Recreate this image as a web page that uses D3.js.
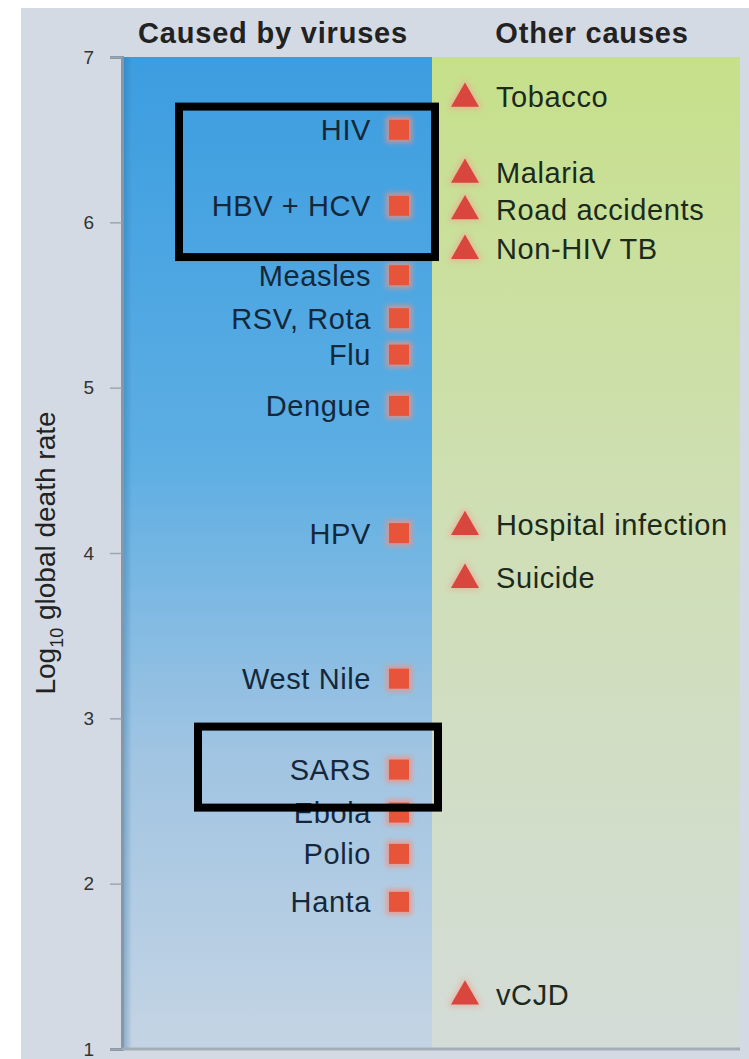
<!DOCTYPE html>
<html lang="en">
<head>
<meta charset="UTF-8">
<title>Log10 global death rate</title>
<style>
  body { margin: 0; background: #fff; }
  svg { display: block; font-family: "Liberation Sans", Arial, sans-serif; }
</style>
</head>
<body>
<svg width="749" height="1059"></svg>
<script src="https://d3js.org/d3.v7.min.js"></script>
<script>
// viruses (left column) and other causes (right column), log10 deaths
const virusNames = ['HIV', 'HBV + HCV', 'Measles', 'RSV, Rota', 'Flu', 'Dengue', 'HPV',
                    'West Nile', 'SARS', 'Ebola', 'Polio', 'Hanta'];
const virusValues = [6.56, 6.10, 5.68, 5.42, 5.20, 4.89, 4.12, 3.24, 2.69, 2.43, 2.18, 1.89];

const otherNames = ['Tobacco', 'Malaria', 'Road accidents', 'Non-HIV TB',
                    'Hospital infection', 'Suicide', 'vCJD'];
const otherValues = [6.76, 6.30, 6.08, 5.84, 4.17, 3.85, 1.33];

const yTicks = [1, 2, 3, 4, 5, 6, 7];
const columnTitles = ['Caused by viruses', 'Other causes'];
// highlighted ranges (top, bottom) in log units
const highlightRanges = [[6.70, 5.79], [2.95, 2.46]];

const svg = d3.select('svg');

const y = d3.scaleLinear().domain([1, 7]).range([1049, 57]);
// the viruses panel is a bit narrower than the other one
const splitX = 432;

const defs = svg.append('defs');
const blue = defs.append('linearGradient').attr('id', 'gBlue')
    .attr('x1', 0).attr('y1', 0).attr('x2', 0).attr('y2', 1);
blue.append('stop').attr('offset', '0%').attr('stop-color', '#3c9de0');
blue.append('stop').attr('offset', '40%').attr('stop-color', '#5caee3');
blue.append('stop').attr('offset', '70%').attr('stop-color', '#a0c4e2');
blue.append('stop').attr('offset', '100%').attr('stop-color', '#c4d4e4');

const green = defs.append('linearGradient').attr('id', 'gGreen')
    .attr('x1', 0).attr('y1', 0).attr('x2', 0).attr('y2', 1);
green.append('stop').attr('offset', '0%').attr('stop-color', '#c6e08a');
green.append('stop').attr('offset', '45%').attr('stop-color', '#cfdfb4');
green.append('stop').attr('offset', '100%').attr('stop-color', '#d3dcd8');

const edge = defs.append('linearGradient').attr('id', 'gEdge');
edge.append('stop').attr('offset', '0%').attr('stop-color', '#2f6f9f').attr('stop-opacity', 0.45);
edge.append('stop').attr('offset', '100%').attr('stop-color', '#2f6f9f').attr('stop-opacity', 0);

const glow = defs.append('filter').attr('id', 'glow')
    .attr('x', '-50%').attr('y', '-50%').attr('width', '200%').attr('height', '200%');
glow.append('feGaussianBlur').attr('stdDeviation', 2.5);

// page background
svg.append('rect').attr('x', 21).attr('y', 8).attr('width', 728).attr('height', 1051)
    .attr('fill', '#d3dae3');

// panels
svg.append('rect').attr('x', 122).attr('y', y(7))
    .attr('width', splitX - 122).attr('height', y(1) - y(7)).attr('fill', 'url(#gBlue)');
svg.append('rect').attr('x', splitX).attr('y', y(7))
    .attr('width', 740 - splitX).attr('height', y(1) - y(7)).attr('fill', 'url(#gGreen)');
svg.append('rect').attr('x', 122).attr('y', y(7))
    .attr('width', 10).attr('height', y(1) - y(7)).attr('fill', 'url(#gEdge)');

// column titles
svg.selectAll('.col-title')
  .data(columnTitles)
  .join('text')
    .attr('class', 'col-title')
    .attr('x', (d, i) => i === 0 ? 273 : 592)
    .attr('y', 43)
    .attr('text-anchor', 'middle')
    .attr('font-size', 29)
    .attr('letter-spacing', 0.8)
    .attr('font-weight', 'bold')
    .attr('fill', '#222')
    .text(d => d);

// y axis
const yAxis = d3.axisLeft(y).tickValues(yTicks).tickFormat(d3.format('d')).tickSize(12).tickPadding(16);
const gAxis = svg.append('g').attr('transform', 'translate(122,0)').call(yAxis);
gAxis.select('.domain').attr('stroke', '#8797a6').attr('stroke-width', 3);
gAxis.selectAll('.tick line').attr('stroke', '#9aa6b2').attr('stroke-width', 1.5);
gAxis.selectAll('.tick text').attr('font-size', 19).attr('fill', '#333')
    .attr('font-family', '"Liberation Sans", Arial, sans-serif');

// bottom baseline
svg.append('line').attr('x1', 122).attr('x2', 740).attr('y1', y(1)).attr('y2', y(1))
    .attr('stroke', '#a3adb8').attr('stroke-width', 3);

// axis title
const title = svg.append('text')
    .attr('transform', `translate(55,${y(4)}) rotate(-90)`)
    .attr('text-anchor', 'middle')
    .attr('font-size', 28)
    .attr('fill', '#222');
title.append('tspan').text('Log');
title.append('tspan').attr('font-size', 18).attr('dy', 8).text('10');
title.append('tspan').attr('dy', -8).text(' global death rate');

const viruses = virusNames.map((n, i) => ({ name: n, value: virusValues[i] }));
const others = otherNames.map((n, i) => ({ name: n, value: otherValues[i] }));

// virus markers
const sq = 20;
const sqX = 399;
const gV = svg.append('g');
gV.selectAll('.sq-glow')
  .data(viruses)
  .join('rect')
    .attr('class', 'sq-glow')
    .attr('x', sqX - sq / 2 - 3).attr('y', d => y(d.value) - sq / 2 - 3)
    .attr('width', sq + 6).attr('height', sq + 6)
    .attr('fill', '#f2907e').attr('opacity', 0.75)
    .attr('filter', 'url(#glow)');
gV.selectAll('.sq')
  .data(viruses)
  .join('rect')
    .attr('class', 'sq')
    .attr('x', sqX - sq / 2).attr('y', d => y(d.value) - sq / 2)
    .attr('width', sq).attr('height', sq)
    .attr('fill', '#e8543a');
gV.selectAll('.v-label')
  .data(viruses)
  .join('text')
    .attr('class', 'v-label')
    .attr('x', 371)
    .attr('y', d => y(d.value))
    .attr('dy', '0.36em')
    .attr('text-anchor', 'end')
    .attr('font-size', 29)
    .attr('letter-spacing', 0.6)
    .attr('fill', '#15283a')
    .text(d => d.name);

// other causes markers
const triX = 465;
const tri = d3.symbol().type(d3.symbolTriangle).size(340);
const gO = svg.append('g');
gO.selectAll('.tri-glow')
  .data(others)
  .join('path')
    .attr('class', 'tri-glow')
    .attr('transform', d => `translate(${triX},${y(d.value) + 2}) scale(1.2)`)
    .attr('d', tri)
    .attr('fill', '#f0a090').attr('opacity', 0.7)
    .attr('filter', 'url(#glow)');
gO.selectAll('.tri')
  .data(others)
  .join('path')
    .attr('class', 'tri')
    .attr('transform', d => `translate(${triX},${y(d.value) + 2})`)
    .attr('d', tri)
    .attr('fill', '#d9463e');
gO.selectAll('.o-label')
  .data(others)
  .join('text')
    .attr('class', 'o-label')
    .attr('x', 496)
    .attr('y', d => y(d.value))
    .attr('dy', '0.36em')
    .attr('font-size', 29)
    .attr('letter-spacing', 0.6)
    .attr('fill', '#1c2a1c')
    .text(d => d.name);

// highlight boxes
svg.selectAll('.hl')
  .data(highlightRanges)
  .join('rect')
    .attr('class', 'hl')
    .attr('x', (d, i) => i === 0 ? 179 : 198)
    .attr('y', d => y(d[0]))
    .attr('width', (d, i) => i === 0 ? 256 : 240)
    .attr('height', d => y(d[1]) - y(d[0]))
    .attr('fill', 'none')
    .attr('stroke', '#000')
    .attr('stroke-width', 8);
</script>
</body>
</html>
